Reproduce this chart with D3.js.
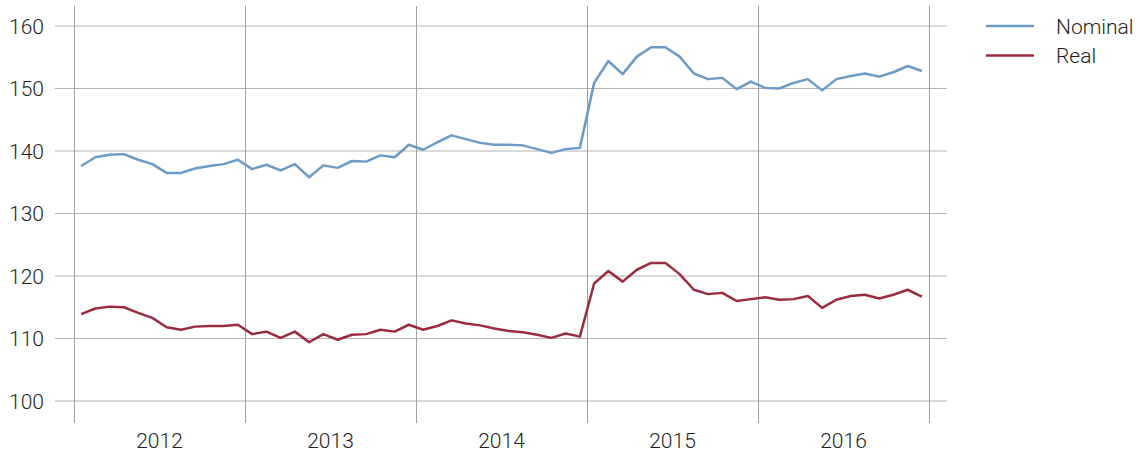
<!DOCTYPE html>
<html>
<head>
<meta charset="utf-8">
<script src="https://cdn.jsdelivr.net/npm/d3@7"></script>
<style>
  body { margin: 0; background: #fff; }
  text { font-family: Roboto, "Noto Sans", sans-serif; fill: #1e1e1e; }
</style>
</head>
<body>
<div id="chart-area"></div>
<script>
// monthly index values, Jan 2012 .. Dec 2016
var years = ["2012", "2013", "2014", "2015", "2016"];
var yTicks = [100, 110, 120, 130, 140, 150, 160];
var seriesNames = ["Nominal", "Real"];

var nominal = [
  137.6, 139.0, 139.4, 139.5, 138.6, 137.9, 136.5, 136.5, 137.2, 137.6, 137.9, 138.6,
  137.1, 137.8, 136.9, 137.9, 135.8, 137.7, 137.3, 138.4, 138.3, 139.3, 139.0, 141.0,
  140.2, 141.4, 142.5, 141.9, 141.3, 141.0, 141.0, 140.9, 140.3, 139.7, 140.3, 140.5,
  150.9, 154.4, 152.3, 155.1, 156.6, 156.6, 155.1, 152.4, 151.5, 151.7, 149.9, 151.1,
  150.1, 150.0, 150.9, 151.5, 149.7, 151.5, 152.0, 152.4, 151.9, 152.6, 153.6, 152.8
];
var real = [
  113.9, 114.8, 115.1, 115.0, 114.1, 113.3, 111.8, 111.4, 111.9, 112.0, 112.0, 112.2,
  110.7, 111.1, 110.1, 111.1, 109.4, 110.7, 109.8, 110.6, 110.7, 111.4, 111.1, 112.2,
  111.4, 112.0, 112.9, 112.4, 112.1, 111.6, 111.2, 111.0, 110.6, 110.1, 110.8, 110.3,
  118.8, 120.8, 119.1, 121.0, 122.1, 122.1, 120.3, 117.8, 117.1, 117.3, 116.0, 116.3,
  116.6, 116.2, 116.3, 116.8, 114.9, 116.2, 116.8, 117.0, 116.4, 117.0, 117.8, 116.7
];
var colors = ["#6a9bc6", "#9a2c3d"];

var width = 1140;
var height = 454;

var svg = d3.select("#chart-area").append("svg")
            .attr("width", width)
            .attr("height", height);

var x = d3.scaleLinear()
          .domain([0, 60])
          .range([74, 929]);

var y = d3.scaleLinear()
          .domain([100, 160])
          .range([401, 26]);

// horizontal grid
svg.append("g").selectAll("line")
   .data(yTicks)
   .enter().append("line")
   .attr("x1", 55)
   .attr("x2", 947)
   .attr("y1", (d) => { return y(d); })
   .attr("y2", (d) => { return y(d); })
   .attr("stroke", "#b4b4b4")
   .attr("stroke-width", 1);

// vertical grid at year boundaries
svg.append("g").selectAll("line")
   .data(d3.range(years.length + 1))
   .enter().append("line")
   .attr("x1", (d) => { return Math.round(x(d * 12)) + 0.5; })
   .attr("x2", (d) => { return Math.round(x(d * 12)) + 0.5; })
   .attr("y1", 6)
   .attr("y2", 423)
   .attr("stroke", "#a0a0a0")
   .attr("stroke-width", 1);

// y labels
svg.append("g").selectAll("text")
   .data(yTicks)
   .enter().append("text")
   .attr("x", 44)
   .attr("y", (d) => { return y(d); })
   .attr("dy", "0.36em")
   .attr("text-anchor", "end")
   .attr("font-size", "21px")
   .attr("font-weight", 300)
   .text((d) => { return d; });

// year labels
svg.append("g").selectAll("text")
   .data(years)
   .enter().append("text")
   .attr("x", (d, i) => { return x(i * 12 + 6); })
   .attr("y", 448)
   .attr("text-anchor", "middle")
   .attr("font-size", "21px")
   .attr("font-weight", 300)
   .text((d) => { return d; });

var line = d3.line()
             .x((d, i) => { return x(i + 0.5); })
             .y((d) => { return y(d); });

[nominal, real].forEach((data, k) => {
  svg.append("path")
     .datum(data)
     .attr("d", line)
     .attr("fill", "none")
     .attr("stroke", colors[k])
     .attr("stroke-width", 2.5)
     .attr("stroke-linejoin", "round");
});

// legend
var legend = svg.append("g").selectAll("g")
                .data(seriesNames)
                .enter().append("g")
                .attr("transform", (d, i) => { return "translate(986, " + (26 + i * 29.5) + ")"; });

legend.append("line")
      .attr("x1", 0)
      .attr("x2", 48)
      .attr("stroke", (d, i) => { return colors[i]; })
      .attr("stroke-width", 2.5);

legend.append("text")
      .attr("x", 70)
      .attr("dy", "0.36em")
      .attr("font-size", "21px")
      .attr("font-weight", 300)
      .text((d) => { return d; });
</script>
</body>
</html>
